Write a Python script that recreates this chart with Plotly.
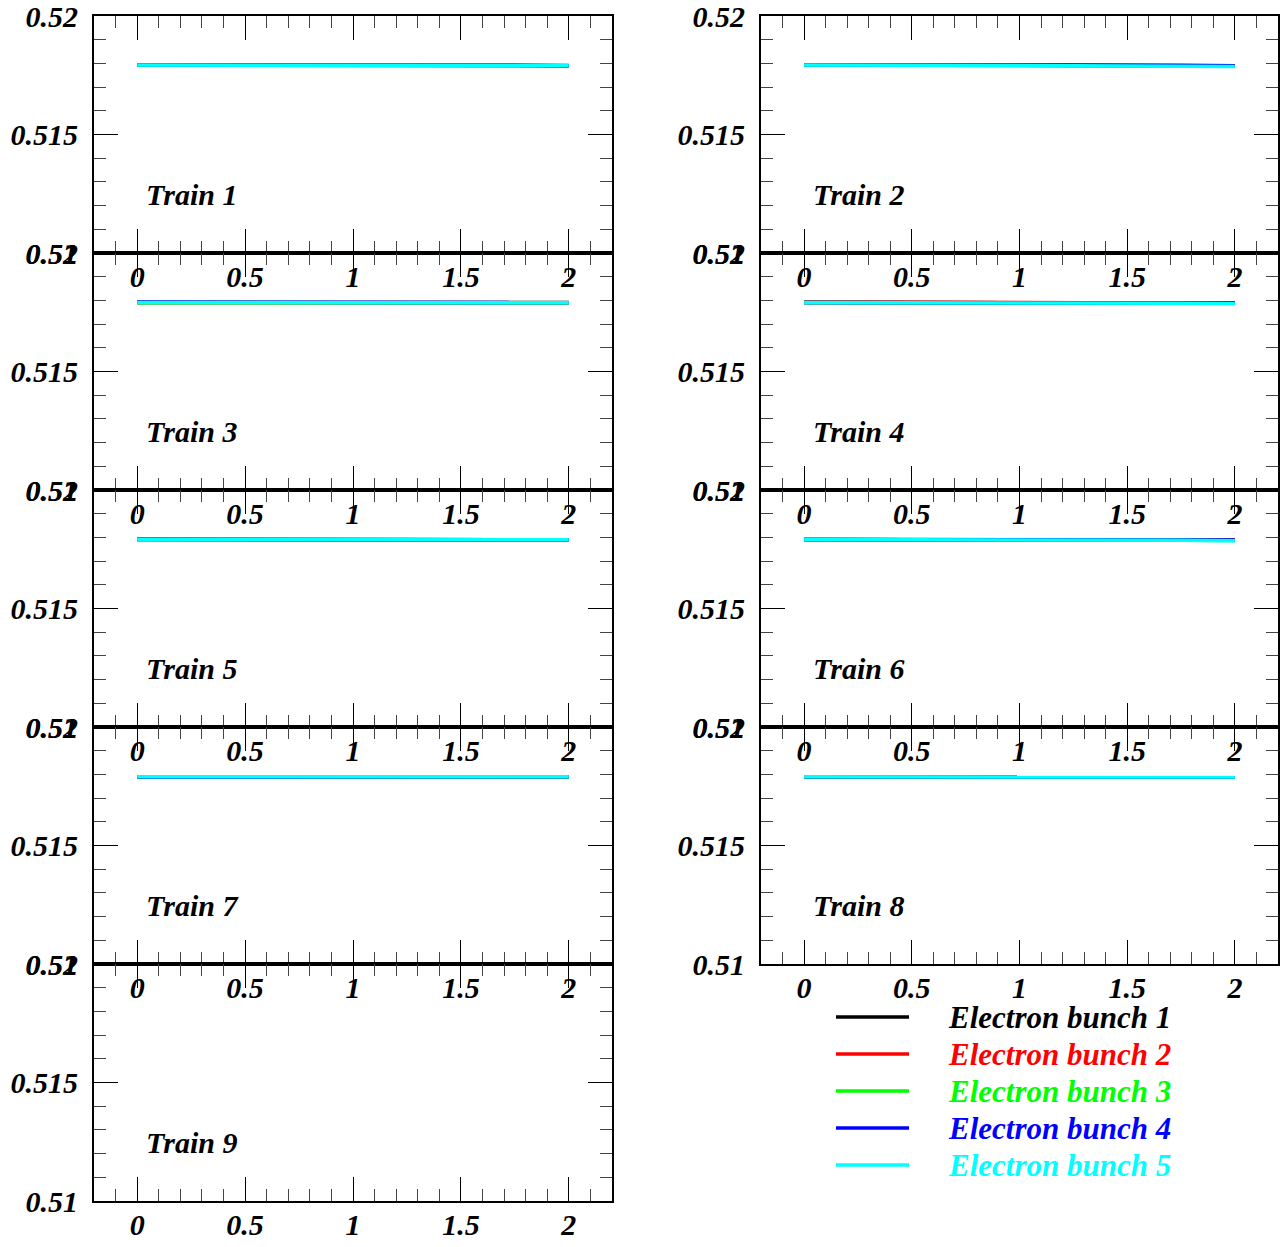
import plotly.graph_objects as go

# ---------------- data ----------------
x_vals = [0, 0.25, 0.5, 0.75, 1.0, 1.25, 1.5, 1.75, 2.0]

bunch_names = ["Electron bunch 1", "Electron bunch 2", "Electron bunch 3",
               "Electron bunch 4", "Electron bunch 5"]
bunch_colors = ["#000000", "#ff0000", "#00ff00", "#0000ff", "#00ffff"]

train1 = [
    [0.51793, 0.51793, 0.51793, 0.51793, 0.51793, 0.51793, 0.51793, 0.51792, 0.51791],
    [0.51793, 0.51793, 0.51792, 0.51793, 0.51793, 0.51793, 0.51793, 0.51792, 0.51791],
    [0.51793, 0.51792, 0.51791, 0.51792, 0.51793, 0.51793, 0.51793, 0.51792, 0.51792],
    [0.51794, 0.51794, 0.51794, 0.51794, 0.51794, 0.51794, 0.51793, 0.51792, 0.51790],
    [0.51793, 0.51793, 0.51793, 0.51793, 0.51793, 0.51793, 0.51793, 0.51792, 0.51791],
]
train2 = [
    [0.51794, 0.51794, 0.51793, 0.51793, 0.51793, 0.51792, 0.51791, 0.51790, 0.51789],
    [0.51794, 0.51794, 0.51793, 0.51791, 0.51791, 0.51791, 0.51790, 0.51789, 0.51788],
    [0.51794, 0.51794, 0.51793, 0.51792, 0.51792, 0.51790, 0.51789, 0.51788, 0.51788],
    [0.51794, 0.51794, 0.51794, 0.51793, 0.51793, 0.51793, 0.51792, 0.51792, 0.51790],
    [0.51793, 0.51793, 0.51793, 0.51792, 0.51791, 0.51790, 0.51789, 0.51788, 0.51787],
]
train3 = [
    [0.51791, 0.51791, 0.51791, 0.51791, 0.51791, 0.51791, 0.51791, 0.51791, 0.51791],
    [0.51791, 0.51791, 0.51791, 0.51791, 0.51791, 0.51791, 0.51791, 0.51790, 0.51790],
    [0.51790, 0.51790, 0.51790, 0.51790, 0.51791, 0.51791, 0.51791, 0.51791, 0.51790],
    [0.51793, 0.51793, 0.51793, 0.51792, 0.51791, 0.51791, 0.51791, 0.51791, 0.51791],
    [0.51791, 0.51791, 0.51791, 0.51791, 0.51791, 0.51791, 0.51791, 0.51790, 0.51790],
]
train4 = [
    [0.51791, 0.51791, 0.51791, 0.51791, 0.51791, 0.51790, 0.51790, 0.51789, 0.51789],
    [0.51794, 0.51793, 0.51791, 0.51791, 0.51791, 0.51790, 0.51790, 0.51789, 0.51788],
    [0.51791, 0.51791, 0.51792, 0.51793, 0.51792, 0.51791, 0.51790, 0.51789, 0.51788],
    [0.51791, 0.51791, 0.51791, 0.51791, 0.51791, 0.51791, 0.51790, 0.51790, 0.51790],
    [0.51791, 0.51791, 0.51791, 0.51791, 0.51790, 0.51789, 0.51788, 0.51788, 0.51787],
]
train5 = [
    [0.51791, 0.51791, 0.51791, 0.51791, 0.51791, 0.51791, 0.51791, 0.51791, 0.51790],
    [0.51791, 0.51791, 0.51791, 0.51791, 0.51791, 0.51791, 0.51791, 0.51790, 0.51790],
    [0.51791, 0.51791, 0.51791, 0.51791, 0.51791, 0.51791, 0.51791, 0.51791, 0.51790],
    [0.51792, 0.51792, 0.51791, 0.51791, 0.51791, 0.51790, 0.51791, 0.51791, 0.51790],
    [0.51791, 0.51791, 0.51791, 0.51791, 0.51791, 0.51791, 0.51791, 0.51790, 0.51790],
]
train6 = [
    [0.51791, 0.51791, 0.51791, 0.51791, 0.51790, 0.51790, 0.51789, 0.51789, 0.51788],
    [0.51791, 0.51791, 0.51791, 0.51791, 0.51792, 0.51790, 0.51789, 0.51789, 0.51788],
    [0.51791, 0.51791, 0.51790, 0.51790, 0.51790, 0.51789, 0.51789, 0.51788, 0.51787],
    [0.51791, 0.51791, 0.51791, 0.51791, 0.51791, 0.51791, 0.51790, 0.51790, 0.51789],
    [0.51791, 0.51791, 0.51791, 0.51790, 0.51790, 0.51789, 0.51789, 0.51788, 0.51786],
]
train7 = [
    [0.51790, 0.51790, 0.51790, 0.51790, 0.51790, 0.51790, 0.51790, 0.51790, 0.51790],
    [0.51790, 0.51790, 0.51790, 0.51790, 0.51790, 0.51790, 0.51788, 0.51790, 0.51790],
    [0.51790, 0.51790, 0.51790, 0.51791, 0.51792, 0.51792, 0.51791, 0.51790, 0.51790],
    [0.51789, 0.51789, 0.51789, 0.51789, 0.51789, 0.51789, 0.51790, 0.51790, 0.51790],
    [0.51790, 0.51790, 0.51790, 0.51790, 0.51790, 0.51790, 0.51791, 0.51790, 0.51790],
]
train8 = [
    [0.51790, 0.51790, 0.51790, 0.51790, 0.51790, 0.51790, 0.51790, 0.51790, 0.51789],
    [0.51790, 0.51790, 0.51790, 0.51790, 0.51790, 0.51790, 0.51790, 0.51790, 0.51789],
    [0.51790, 0.51790, 0.51790, 0.51790, 0.51790, 0.51790, 0.51790, 0.51789, 0.51789],
    [0.51790, 0.51790, 0.51790, 0.51790, 0.51790, 0.51790, 0.51790, 0.51790, 0.51789],
    [0.51790, 0.51790, 0.51790, 0.51790, 0.51790, 0.51790, 0.51790, 0.51789, 0.51789],
]
train9 = [[], [], [], [], []]

trains = [train1, train2, train3, train4, train5, train6, train7, train8, train9]
train_labels = ["Train 1", "Train 2", "Train 3", "Train 4", "Train 5",
                "Train 6", "Train 7", "Train 8", "Train 9"]

x_tickvals = [0, 0.5, 1, 1.5, 2]
x_ticktext = ["0", "0.5", "1", "1.5", "2"]
y_tickvals = [0.51, 0.515, 0.52]
y_ticktext = ["0.51", "0.515", "0.52"]

# ---------------- layout geometry (pixels) ----------------
W, H = 1280, 1247
col_x = [(94, 612), (761, 1278)]
panel_top0, panel_h = 16, 237

FONT = "Liberation Serif"
tickfont = dict(family=FONT, size=30, color="black", weight="bold", style="italic")

fig = go.Figure()

for i, data in enumerate(trains):
    n = i + 1
    col = i % 2
    row = i // 2
    xs = "" if n == 1 else str(n)
    xd = [col_x[col][0] / W, col_x[col][1] / W]
    top = panel_top0 + row * panel_h
    bot = top + panel_h
    yd = [1 - bot / H, 1 - top / H]
    for b, ys in enumerate(data):
        fig.add_trace(go.Scatter(
            x=x_vals[:len(ys)], y=ys, mode="lines",
            line=dict(color=bunch_colors[b], width=3.5),
            name=bunch_names[b], showlegend=False,
            xaxis="x" + xs, yaxis="y" + xs))
    common = dict(showline=True, linecolor="black", linewidth=2, mirror="allticks",
                  ticks="inside", ticklen=24, tickwidth=1, tickcolor="black",
                  showgrid=False, zeroline=False, tickfont=tickfont, automargin=False,
                  ticklabeloverflow="allow")
    fig.layout["xaxis" + xs] = dict(
        domain=xd, anchor="y" + xs, range=[-0.2, 2.2],
        tickmode="array", tickvals=x_tickvals, ticktext=x_ticktext,
        minor=dict(dtick=0.1, tick0=0, ticks="inside", ticklen=12,
                   tickcolor="#444444", tickwidth=1, showgrid=False),
        ticklabelstandoff=-4, **common)
    fig.layout["yaxis" + xs] = dict(
        domain=yd, anchor="x" + xs, range=[0.51, 0.52],
        tickmode="array", tickvals=y_tickvals, ticktext=y_ticktext,
        minor=dict(dtick=0.001, tick0=0.51, ticks="inside", ticklen=12,
                   tickcolor="#444444", tickwidth=1, showgrid=False),
        ticklabelstandoff=8, **common)
    fig.add_annotation(
        x=0.032, y=0.51245, xref="x" + xs, yref="y" + xs,
        text=train_labels[i], showarrow=False, xanchor="left", yanchor="middle",
        font=dict(family=FONT, size=30, color="black", weight="bold", style="italic"))

# legend drawn as shapes + coloured labels
leg_y = [1017, 1054, 1091, 1128, 1165]
for b in range(5):
    yp = 1 - leg_y[b] / H
    fig.add_shape(type="line", xref="paper", yref="paper",
                  x0=836 / W, x1=909 / W, y0=yp, y1=yp,
                  line=dict(color=bunch_colors[b], width=3.5))
    fig.add_annotation(x=946 / W, y=yp, xref="paper", yref="paper",
                       text=bunch_names[b], showarrow=False,
                       xanchor="left", yanchor="middle",
                       font=dict(family=FONT, size=31, color=bunch_colors[b],
                                 weight="bold", style="italic"))

fig.update_layout(width=W, height=H, margin=dict(l=0, r=0, t=0, b=0, autoexpand=False),
                  paper_bgcolor="white", plot_bgcolor="rgba(0,0,0,0)",
                  showlegend=False)

fig.write_html("out.html", config={"displayModeBar": False},
               post_script="document.body.style.margin='0';document.body.style.overflow='hidden';")
